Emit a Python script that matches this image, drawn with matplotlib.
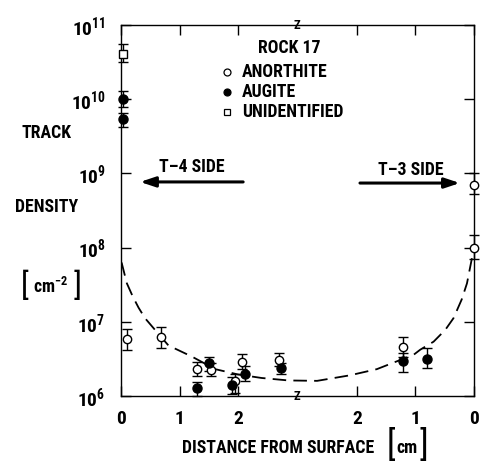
import matplotlib
matplotlib.use("Agg")
import matplotlib.pyplot as plt
import numpy as np
from matplotlib import font_manager

# total length of the traverse (cm), T-4 surface at 0, T-3 surface at L
L = 6.03

# anorthite, measured from the T-4 surface
an4_d = [0.10, 0.68, 1.30, 1.53, 1.95, 2.07, 2.70]
an4_v = [5.9e6, 6.2e6, 2.3e6, 2.25e6, 1.6e6, 2.9e6, 3.1e6]
an4_hi = [8.0e6, 8.5e6, 2.85e6, 2.8e6, 2.0e6, 3.7e6, 3.85e6]
an4_lo = [4.2e6, 4.4e6, 1.88e6, 1.85e6, 1.1e6, 2.3e6, 2.5e6]

# anorthite, measured from the T-3 surface
an3_d = [1.22, 0.0, 0.0]
an3_v = [4.6e6, 1.0e8, 7.0e8]
an3_hi = [6.3e6, 1.5e8, 1.0e9]
an3_lo = [3.4e6, 7.0e7, 5.2e8]

# augite
au4_d = [0.03, 0.03, 1.30, 1.51, 1.90, 2.12, 2.73]
au4_v = [1.0e10, 5.4e9, 1.27e6, 2.77e6, 1.4e6, 2.0e6, 2.4e6]
au4_hi = [1.3e10, 6.5e9, 1.55e6, 3.4e6, 1.8e6, 2.5e6, 2.8e6]
au4_lo = [7.8e9, 4.2e9, 1.0e6, 2.2e6, 1.08e6, 1.6e6, 2.0e6]

au3_d = [1.22, 0.81]
au3_v = [2.97e6, 3.2e6]
au3_hi = [3.8e6, 4.4e6]
au3_lo = [2.1e6, 2.4e6]

# unidentified grain
un4_d = [0.03]
un4_v = [4.1e10]
un4_hi = [5.5e10]
un4_lo = [3.2e10]

# dashed fit, both branches
fit4_d = [0.01, 0.10, 0.20, 0.30, 0.41, 0.58, 0.81, 1.21, 1.61, 2.00, 2.40, 2.86]
fit4_v = [6.3e7, 3.3e7, 2.2e7, 1.55e7, 1.12e7, 7.8e6, 4.8e6, 3.4e6, 2.3e6, 1.95e6, 1.75e6, 1.62e6]
fit3_d = [2.68, 2.12, 1.66, 1.03, 0.92, 0.69, 0.49, 0.35, 0.21, 0.12, 0.04, 0.01]
fit3_v = [1.6e6, 1.9e6, 2.3e6, 3.6e6, 4.2e6, 5.4e6, 7.8e6, 1.12e7, 2.0e7, 3.3e7, 6.9e7, 9.0e7]

xtick_pos = [0, 1, 2, L - 2, L - 1, L]
xtick_lab = ["0", "1", "2", "2", "1", "0"]


def pick_font():
    for name in ["Liberation Sans Narrow", "Roboto Condensed", "DejaVu Sans"]:
        try:
            font_manager.findfont(name, fallback_to_default=False)
            return name
        except ValueError:
            pass
    return "DejaVu Sans"


FONT = pick_font()
plt.rcParams["font.family"] = [FONT, "DejaVu Sans"]
plt.rcParams["font.weight"] = "bold"

FS = 12.8

W, H = 482, 465
fig = plt.figure(figsize=(W / 100, H / 100), dpi=100)
ax = fig.add_axes([121 / W, 1 - 396 / H, (474 - 121) / W, (396 - 25) / H])


def fx(px):
    return px / W


def fy(py):
    return 1 - py / H


def errs(v, lo, hi):
    v = np.array(v)
    return [v - np.array(lo), np.array(hi) - v]


def t3(d):
    return [L - x for x in d]


eb = dict(ecolor="black", elinewidth=1.0, capsize=3.5, capthick=1.0,
          linestyle="none", clip_on=False, zorder=3)

ax.errorbar(an4_d, an4_v, yerr=errs(an4_v, an4_lo, an4_hi), fmt="o", ms=6,
            mfc="white", mec="black", mew=1.0, **eb)
ax.errorbar(t3(an3_d), an3_v, yerr=errs(an3_v, an3_lo, an3_hi), fmt="o", ms=6,
            mfc="white", mec="black", mew=1.0, **eb)
ax.errorbar(au4_d, au4_v, yerr=errs(au4_v, au4_lo, au4_hi), fmt="o", ms=6.5,
            mfc="black", mec="black", **eb)
ax.errorbar(t3(au3_d), au3_v, yerr=errs(au3_v, au3_lo, au3_hi), fmt="o", ms=6.5,
            mfc="black", mec="black", **eb)
ax.errorbar(un4_d, un4_v, yerr=errs(un4_v, un4_lo, un4_hi), fmt="s", ms=5.5,
            mfc="white", mec="black", mew=1.0, **eb)

fit_x = fit4_d + t3(fit3_d)
fit_v = fit4_v + fit3_v
ax.plot(fit_x, fit_v, color="black", lw=1.3, linestyle=(0, (7.5, 4)), zorder=2)

ax.set_yscale("log")
ax.set_ylim(1e6, 1e11)
ax.set_xlim(0, L)
ax.set_yticks([1e6, 1e7, 1e8, 1e9, 1e10, 1e11])
ax.minorticks_off()
ax.set_xticks(xtick_pos)
ax.set_xticklabels(xtick_lab)
ax.tick_params(direction="in", length=7, width=1.0, top=True, right=True,
               labelsize=14)
ax.tick_params(axis="x", pad=10)
ax.tick_params(axis="y", pad=11)
for s in ax.spines.values():
    s.set_linewidth(1.0)

# axis break marks
for yb in (0.0, 1.0):
    ax.text(3.0, yb, "Z", transform=ax.get_xaxis_transform(), ha="center",
            va="center", fontsize=9, fontweight="bold", clip_on=False)

# legend
ax.text(0.476, 0.938, "ROCK 17", transform=ax.transAxes, ha="center",
        va="center", fontsize=FS)
leg = [("ANORTHITE", "o", "white", 0.873),
       ("AUGITE", "o", "black", 0.819),
       ("UNIDENTIFIED", "s", "white", 0.7655)]
for lab, mk, fc, yy in leg:
    ax.plot([0.300], [yy], marker=mk, ms=5, mfc=fc, mec="black", mew=0.9,
            transform=ax.transAxes, clip_on=False)
    ax.text(0.343, yy, lab, transform=ax.transAxes, ha="left", va="center",
            fontsize=FS)

# side arrows
arrow = dict(arrowstyle="-|>,head_length=0.9,head_width=0.3", lw=2.2,
             color="black", shrinkA=0, shrinkB=0)
ax.annotate("", xy=(0.054, 0.577), xytext=(0.346, 0.577),
            xycoords="axes fraction", arrowprops=arrow)
ax.annotate("", xy=(0.960, 0.574), xytext=(0.677, 0.574),
            xycoords="axes fraction", arrowprops=arrow)
ax.text(0.201, 0.617, "T\u20134 SIDE", transform=ax.transAxes, ha="center",
        va="center", fontsize=FS)
ax.text(0.8215, 0.610, "T\u20133 SIDE", transform=ax.transAxes, ha="center",
        va="center", fontsize=FS)

# y label pieces
fig.text(fx(46), fy(133), "TRACK", ha="center", va="center", fontsize=FS)
fig.text(fx(47), fy(207), "DENSITY", ha="center", va="center", fontsize=FS)
fig.text(fx(25), fy(286), "[", ha="center", va="center", fontsize=23,
         fontweight="normal")
fig.text(fx(51), fy(287), r"cm$^{\mathdefault{-2}}$", ha="center", va="center",
         fontsize=FS)
fig.text(fx(78), fy(286), "]", ha="center", va="center", fontsize=23,
         fontweight="normal")

# x label pieces
fig.text(fx(278), fy(448), "DISTANCE FROM SURFACE", ha="center", va="center",
         fontsize=FS)
fig.text(fx(391), fy(446), "[", ha="center", va="center", fontsize=25,
         fontweight="normal")
fig.text(fx(407), fy(448), "cm", ha="center", va="center", fontsize=FS)
fig.text(fx(424), fy(446), "]", ha="center", va="center", fontsize=25,
         fontweight="normal")

fig.savefig("out.png", dpi=100)
